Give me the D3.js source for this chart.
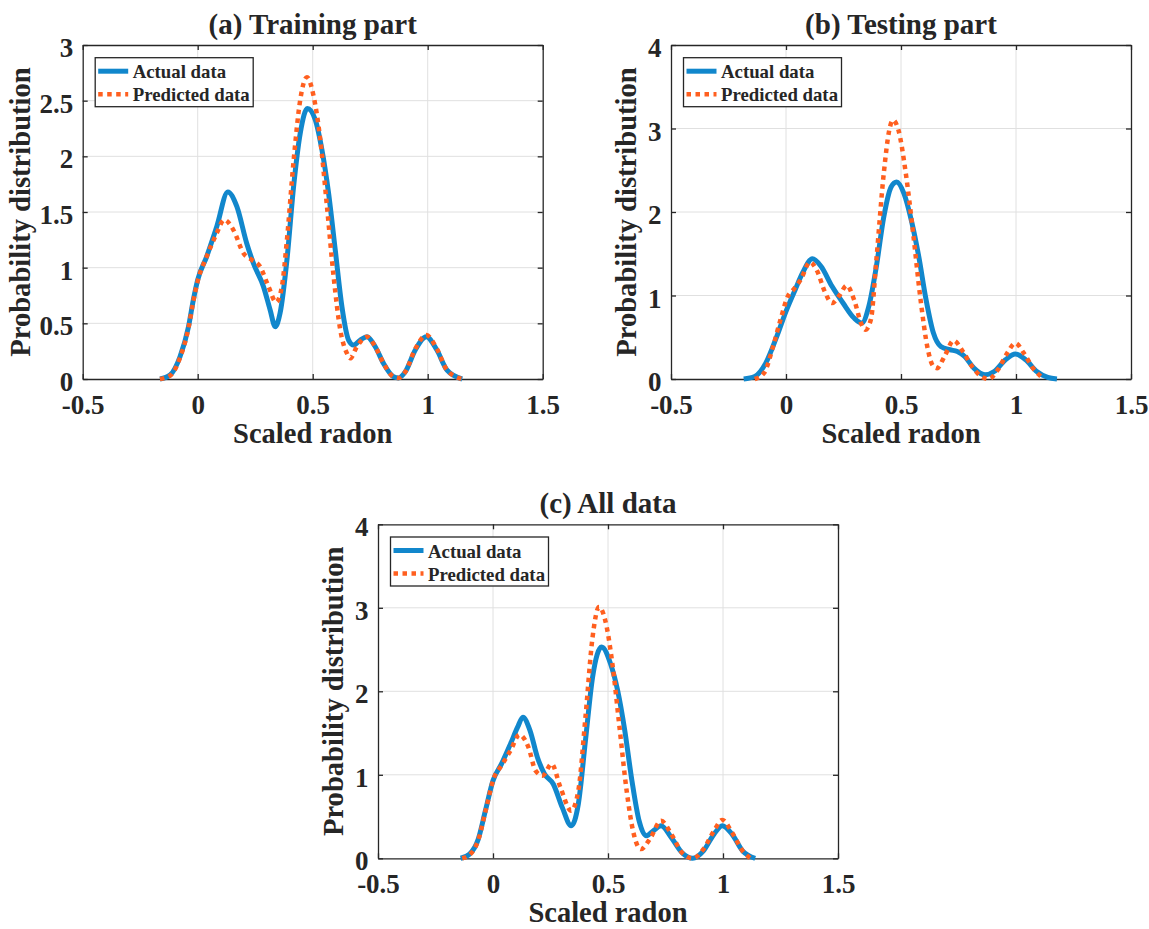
<!DOCTYPE html>
<html>
<head>
<meta charset="utf-8">
<script src="https://cdn.jsdelivr.net/npm/d3@7"></script>
<style>
  html, body { margin: 0; padding: 0; background: #fff; }
  svg text { font-family: "Liberation Serif", "Times New Roman", serif; font-weight: bold; fill: #262626; }
</style>
</head>
<body>
<div id="chart"></div>
<script>
// panel (a) training part
const aActualX = [-0.164,-0.12,-0.077,-0.04,-0.019,0,0.039,0.083,0.131,0.17,0.213,0.242,0.286,0.315,0.337,0.358,0.388,0.417,0.446,0.477,0.511,0.54,0.569,0.598,0.627,0.656,0.678,0.707,0.736,0.772,0.808,0.852,0.874,0.903,0.946,0.994,1.04,1.084,1.15];
const aActualY = [0,0.036,0.2,0.47,0.71,0.89,1.1,1.37,1.68,1.55,1.22,1.04,0.83,0.62,0.47,0.59,1.07,1.73,2.21,2.43,2.33,2.06,1.67,1.16,0.65,0.35,0.305,0.35,0.38,0.29,0.14,0.02,0.01,0.066,0.26,0.38,0.26,0.08,0];
const aPredX = [-0.164,-0.12,-0.077,-0.04,-0.019,0,0.039,0.083,0.115,0.155,0.199,0.235,0.271,0.308,0.341,0.366,0.388,0.417,0.446,0.475,0.504,0.533,0.562,0.591,0.62,0.649,0.663,0.692,0.736,0.772,0.808,0.852,0.874,0.903,0.946,0.994,1.04,1.084,1.15];
const aPredY = [0,0.03,0.19,0.46,0.7,0.88,1.1,1.31,1.43,1.34,1.13,1.07,1.01,0.83,0.69,0.83,1.25,1.96,2.51,2.71,2.54,2.15,1.55,0.92,0.44,0.23,0.186,0.29,0.38,0.29,0.14,0.02,0.01,0.066,0.27,0.395,0.27,0.08,0];

// panel (b) testing part
const bActualX = [-0.184,-0.136,-0.088,-0.04,0,0.04,0.072,0.115,0.152,0.2,0.248,0.296,0.329,0.36,0.393,0.425,0.457,0.481,0.513,0.545,0.577,0.609,0.641,0.673,0.713,0.745,0.777,0.817,0.865,0.905,0.954,0.997,1.042,1.09,1.138,1.178];
const bActualY = [0,0.03,0.19,0.51,0.81,1.07,1.27,1.44,1.35,1.11,0.91,0.73,0.67,0.87,1.35,1.94,2.3,2.36,2.22,1.9,1.47,0.95,0.55,0.39,0.35,0.33,0.27,0.13,0.05,0.09,0.23,0.3,0.23,0.09,0.02,0];
const bPredX = [-0.136,-0.096,-0.056,-0.024,0.008,0.032,0.064,0.104,0.136,0.168,0.2,0.232,0.264,0.296,0.329,0.345,0.369,0.393,0.425,0.449,0.465,0.489,0.521,0.553,0.585,0.617,0.641,0.657,0.689,0.729,0.769,0.809,0.849,0.881,0.921,0.962,0.997,1.034,1.074,1.122];
const bPredY = [0,0.07,0.39,0.71,0.99,1.07,1.19,1.4,1.29,1.05,0.91,1.0,1.12,0.95,0.65,0.59,0.71,1.43,2.46,2.98,3.1,2.98,2.46,1.74,0.95,0.35,0.15,0.13,0.27,0.46,0.33,0.15,0.03,0,0.11,0.31,0.43,0.31,0.13,0];

// panel (c) all data
const cActualX = [-0.141,-0.102,-0.064,-0.033,0,0.037,0.076,0.107,0.13,0.161,0.193,0.224,0.262,0.301,0.34,0.371,0.402,0.433,0.472,0.511,0.542,0.573,0.604,0.635,0.666,0.697,0.731,0.775,0.821,0.868,0.915,0.961,0.997,1.039,1.085,1.14];
const cActualY = [0,0.05,0.23,0.57,0.93,1.13,1.37,1.57,1.69,1.53,1.21,1.01,0.89,0.61,0.39,0.65,1.41,2.17,2.53,2.33,2.01,1.53,0.93,0.45,0.27,0.33,0.39,0.25,0.07,0,0.09,0.29,0.39,0.29,0.09,0];
const cPredX = [-0.134,-0.102,-0.064,-0.033,0.005,0.037,0.076,0.115,0.154,0.185,0.216,0.255,0.293,0.34,0.371,0.402,0.433,0.461,0.488,0.519,0.55,0.581,0.612,0.643,0.682,0.731,0.775,0.821,0.868,0.915,0.961,0.997,1.039,1.085,1.12];
const cPredY = [0,0.04,0.22,0.56,0.97,1.11,1.29,1.48,1.33,1.05,0.99,1.13,0.85,0.57,0.81,1.69,2.65,3.01,2.85,2.33,1.57,0.81,0.29,0.11,0.23,0.45,0.29,0.07,0,0.11,0.33,0.46,0.31,0.09,0];

const xTicks = [-0.5, 0, 0.5, 1, 1.5];
const yTicksA = [0, 0.5, 1, 1.5, 2, 2.5, 3];
const yTicksBC = [0, 1, 2, 3, 4];
const seriesNames = ['Actual data', 'Predicted data'];

const panels = [
  { title: '(a) Training part', left: 82.7, top: 45, yMax: 3, yTicks: yTicksA, ylabelOffset: 53,
    actual: [aActualX, aActualY], pred: [aPredX, aPredY] },
  { title: '(b) Testing part', left: 671, top: 45, yMax: 4, yTicks: yTicksBC, ylabelOffset: 35,
    actual: [bActualX, bActualY], pred: [bPredX, bPredY] },
  { title: '(c) All data', left: 378, top: 524.3, yMax: 4, yTicks: yTicksBC, ylabelOffset: 35,
    actual: [cActualX, cActualY], pred: [cPredX, cPredY] },
];

const W = 1149, H = 929;
const plotW = 460, plotH = 334;
const axisColor = '#262626';
const blue = '#1187cc';
const orange = '#ff5f1f';

const svg = d3.select('#chart').append('svg').attr('width', W).attr('height', H);

const toPoints = (xs, ys) => xs.map((x, i) => ({ x, y: ys[i] }));

panels.forEach((p) => {
  const g = svg.append('g').attr('transform', `translate(${p.left},${p.top})`);
  const xScale = d3.scaleLinear().domain([-0.5, 1.5]).range([0, plotW]);
  const yScale = d3.scaleLinear().domain([0, p.yMax]).range([plotH, 0]);

  // grid
  g.append('g').selectAll('line').data(xTicks.slice(1, -1)).enter().append('line')
    .attr('x1', (d) => xScale(d)).attr('x2', (d) => xScale(d))
    .attr('y1', 0).attr('y2', plotH)
    .attr('stroke', '#e0e0e0').attr('stroke-width', 1);
  g.append('g').selectAll('line').data(p.yTicks.slice(1, -1)).enter().append('line')
    .attr('x1', 0).attr('x2', plotW)
    .attr('y1', (d) => yScale(d)).attr('y2', (d) => yScale(d))
    .attr('stroke', '#e0e0e0').attr('stroke-width', 1);

  // axes with inward ticks on all sides
  const fmt = (d) => String(d);
  const xBottom = d3.axisBottom(xScale).tickValues(xTicks).tickSizeInner(-5).tickSizeOuter(0).tickFormat(fmt);
  const xTop = d3.axisTop(xScale).tickValues(xTicks).tickSizeInner(-5).tickSizeOuter(0).tickFormat('');
  const yLeft = d3.axisLeft(yScale).tickValues(p.yTicks).tickSizeInner(-5).tickSizeOuter(0).tickFormat(fmt);
  const yRight = d3.axisRight(yScale).tickValues(p.yTicks).tickSizeInner(-5).tickSizeOuter(0).tickFormat('');

  const styleAxis = (sel) => {
    sel.select('.domain').attr('stroke', axisColor).attr('stroke-width', 1.3);
    sel.selectAll('.tick line').attr('stroke', axisColor).attr('stroke-width', 1.3);
    sel.selectAll('.tick text').attr('fill', axisColor).style('font-size', '27px')
      .style('font-family', '"Liberation Serif", "Times New Roman", serif').style('font-weight', 'bold');
  };

  const gxb = g.append('g').attr('transform', `translate(0,${plotH})`).call(xBottom).call(styleAxis);
  gxb.selectAll('.tick text').attr('dy', null).attr('y', 34.5);
  g.append('g').call(xTop).call(styleAxis);
  const gyl = g.append('g').call(yLeft).call(styleAxis);
  gyl.selectAll('.tick text').attr('dy', null).attr('y', 11.5).attr('x', -9.5);
  g.append('g').attr('transform', `translate(${plotW},0)`).call(yRight).call(styleAxis);

  // lines
  const line = d3.line().x((d) => xScale(d.x)).y((d) => yScale(d.y)).curve(d3.curveMonotoneX);
  g.append('path').attr('d', line(toPoints(p.actual[0], p.actual[1])))
    .attr('fill', 'none').attr('stroke', blue).attr('stroke-width', 5).attr('stroke-linejoin', 'round');
  g.append('path').attr('d', line(toPoints(p.pred[0], p.pred[1])))
    .attr('fill', 'none').attr('stroke', orange).attr('stroke-width', 4.5).attr('stroke-dasharray', '4.5,4.5');

  // title and labels
  g.append('text').attr('x', plotW / 2).attr('y', -11).attr('text-anchor', 'middle')
    .style('font-size', '29px').attr('fill', '#000').text(p.title);
  g.append('text').attr('x', plotW / 2).attr('y', plotH + 63.5).attr('text-anchor', 'middle')
    .style('font-size', '28.5px').text('Scaled radon');
  g.append('text').attr('transform', `translate(${-p.ylabelOffset},${plotH / 2}) rotate(-90)`)
    .attr('text-anchor', 'middle').style('font-size', '28.6px').text('Probability distribution');

  // legend
  const lg = g.append('g').attr('transform', 'translate(12.5,12.7)');
  lg.append('rect').attr('width', 158).attr('height', 49).attr('fill', '#fff')
    .attr('stroke', axisColor).attr('stroke-width', 1.3);
  const rows = [
    { name: seriesNames[0], color: blue, dash: null, w: 5 },
    { name: seriesNames[1], color: orange, dash: '4.5,4.5', w: 4.5 },
  ];
  rows.forEach((r, i) => {
    const cy = 13.5 + i * 23;
    lg.append('line').attr('x1', 3).attr('x2', 33).attr('y1', cy).attr('y2', cy)
      .attr('stroke', r.color).attr('stroke-width', r.w).attr('stroke-dasharray', r.dash);
    lg.append('text').attr('x', 37.5).attr('y', cy + 7).style('font-size', '18.8px').attr('fill', '#000').text(r.name);
  });
});
</script>
</body>
</html>
